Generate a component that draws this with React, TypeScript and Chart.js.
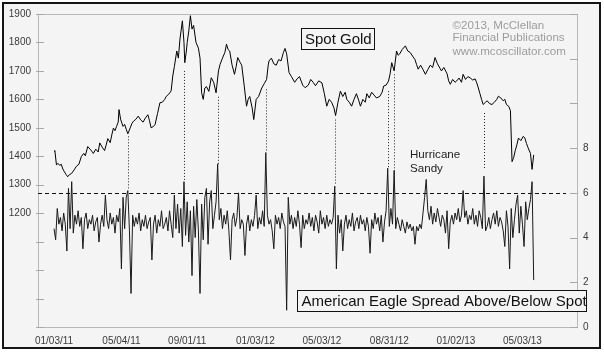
import React, { useEffect, useRef } from 'react';
import { Chart, registerables } from 'chart.js';
Chart.register(...registerables);

// trading-day index (0 = 01/03/11), gold price
const goldSeries: [number, number][] = [
  [0,1418],[1,1420],[3,1370],[5,1375],[7,1368],[9,1372],[11,1355],[13,1345],[15,1336],[17,1328],[19,1335],[22,1340],[25,1352],[28,1365],[31,1372],[34,1399],[37,1410],[39,1402],[42,1434],[45,1425],[47,1418],[49,1410],[52,1425],[55,1415],[57,1447],[60,1432],[63,1420],[65,1440],[67,1462],[70,1448],[72,1475],[74,1499],[76,1490],[78,1505],[80,1520],[81,1564],[83,1530],[86,1505],[88,1512],[90,1495],[92,1479],[95,1500],[97,1515],[99,1523],[102,1530],[105,1541],[108,1528],[111,1520],[114,1535],[117,1546],[119,1525],[121,1500],[124,1505],[126,1512],[129,1550],[132,1588],[135,1590],[138,1600],[140,1611],[143,1618],[146,1630],[148,1682],[150,1715],[153,1770],[155,1745],[157,1812],[160,1876],[162,1800],[163,1729],[165,1770],[166,1800],[168,1840],[170,1894],[172,1847],[174,1860],[177,1800],[180,1780],[182,1745],[184,1623],[186,1600],[188,1640],[190,1645],[193,1628],[196,1676],[199,1660],[202,1623],[205,1700],[207,1723],[210,1745],[213,1765],[215,1794],[217,1775],[219,1770],[222,1720],[225,1688],[227,1715],[229,1747],[232,1730],[234,1720],[237,1650],[240,1576],[242,1600],[244,1610],[247,1570],[249,1529],[252,1600],[255,1610],[259,1640],[262,1655],[265,1670],[267,1720],[268,1735],[271,1745],[274,1725],[277,1720],[280,1740],[283,1735],[286,1765],[288,1779],[290,1760],[293,1694],[296,1680],[300,1660],[303,1672],[306,1680],[310,1650],[313,1641],[317,1650],[320,1670],[323,1660],[326,1648],[330,1665],[334,1658],[337,1620],[340,1576],[343,1600],[346,1590],[349,1570],[351,1543],[354,1590],[357,1629],[360,1610],[363,1625],[365,1600],[368,1590],[371,1576],[374,1600],[377,1620],[380,1595],[382,1576],[385,1600],[388,1590],[390,1620],[393,1605],[396,1625],[399,1615],[402,1605],[406,1610],[409,1625],[411,1647],[414,1650],[417,1664],[419,1690],[421,1729],[424,1700],[427,1770],[429,1755],[431,1760],[434,1775],[438,1788],[441,1770],[444,1765],[447,1752],[450,1740],[452,1722],[454,1706],[457,1720],[460,1705],[463,1688],[466,1705],[469,1720],[472,1712],[475,1747],[478,1725],[481,1710],[483,1700],[486,1712],[490,1690],[492,1665],[494,1653],[497,1670],[500,1660],[502,1665],[505,1675],[508,1660],[510,1688],[513,1670],[516,1680],[519,1675],[522,1668],[525,1672],[527,1658],[529,1640],[531,1620],[533,1600],[535,1582],[538,1590],[540,1595],[543,1585],[546,1582],[549,1590],[552,1600],[554,1611],[557,1605],[560,1595],[562,1600],[564,1582],[567,1575],[569,1560],[571,1381],[573,1395],[575,1420],[577,1440],[579,1464],[582,1455],[585,1470],[587,1464],[589,1445],[591,1430],[594,1410],[596,1354],[598,1405]
];

// American Eagle spread, one value every SPREAD_STEP trading days starting at day 0
const SPREAD_STEP = 2;
const spreadValues: number[] = [
  4.4,3.9,5.3,4.6,4.9,4.3,5.1,4.6,3.4,6.2,
  4.4,6.5,4.2,5.0,4.6,5.2,4.5,4.9,3.5,4.8,
  5.1,4.4,4.8,4.6,5.0,4.3,4.7,4.9,3.8,4.6,
  5.0,4.5,5.9,4.8,4.4,5.1,4.6,4.9,4.2,5.0,
  4.7,5.3,2.6,5.8,4.4,5.8,6.1,4.3,1.5,5.0,
  4.5,4.9,4.6,5.1,4.3,4.8,4.5,5.0,4.4,4.7,
  4.9,3.0,4.6,5.0,4.2,4.8,4.5,5.2,4.4,4.6,
  4.9,4.3,5.2,4.6,4.0,5.9,4.4,5.5,4.2,5.3,
  3.6,6.5,4.1,5.6,3.8,5.2,2.3,5.4,4.0,5.7,
  4.3,1.5,5.5,3.9,5.8,6.2,3.7,5.6,6.1,4.4,
  5.0,5.6,7.3,4.8,5.3,4.4,5.0,4.6,5.2,4.3,
  3.0,4.8,5.1,4.5,4.9,6.0,4.4,4.8,4.6,3.2,
  4.6,5.0,4.3,4.8,4.5,5.0,5.9,4.4,4.9,4.6,
  5.2,4.5,7.8,5.0,4.6,4.8,4.3,3.5,5.0,4.6,
  4.9,4.4,5.1,4.7,4.5,0.75,5.8,4.6,5.0,4.4,
  4.9,4.5,5.2,4.6,3.55,5.0,4.4,4.8,4.6,5.1,
  4.5,4.9,4.3,5.0,4.7,4.2,5.2,4.6,4.9,4.4,
  5.0,4.5,4.8,4.6,4.9,6.3,2.6,5.0,4.2,4.8,
  3.4,4.6,5.0,4.4,4.8,4.5,5.1,4.3,4.7,4.9,
  4.4,5.0,4.6,4.8,4.3,4.9,4.5,3.3,4.8,4.4,
  5.1,4.6,4.9,4.3,5.0,3.8,4.7,5.2,7.1,4.5,
  5.3,4.6,7.0,4.4,4.9,4.6,4.3,4.8,4.5,4.2,
  4.7,4.4,4.6,4.3,4.5,3.7,4.5,4.3,4.6,4.4,
  5.1,5.8,6.6,5.2,4.8,5.4,4.6,5.1,4.7,5.3,
  4.9,4.5,5.0,4.8,4.2,5.2,3.5,4.7,5.0,4.6,
  5.1,4.8,5.3,4.7,5.0,6.1,4.9,5.2,4.6,5.0,
  4.8,5.3,4.6,5.0,4.5,5.2,4.9,4.4,6.75,4.3,
  4.5,4.9,4.4,4.8,5.1,4.6,5.2,4.5,4.9,4.7,
  4.3,3.6,5.2,4.5,2.6,5.3,4.0,4.8,5.5,5.9,
  4.2,5.4,4.6,3.6,5.6,4.8,5.3,5.7,6.5,2.1
];

const xTickDays = [0, 84, 166, 251, 334, 418, 501, 584];
const xTickLabels = ['01/03/11', '05/04/11', '09/01/11', '01/03/12', '05/03/12', '08/31/12', '01/02/13', '05/03/13'];

// dotted connectors: day, gold level where they start, spread level where they end
const markerDays = [92, 162, 204, 264, 350, 416, 424, 536];
const markerGoldTop = [1470, 1700, 1609, 1635, 1529, 1629, 1688, 1552];
const markerSpreadBottom = [6.2, 6.5, 7.3, 7.8, 6.35, 7.07, 6.6, 7.05];

const SPREAD_THRESHOLD = 6;

const FONT = "'Liberation Sans', Arial, sans-serif";

const decorPlugin = {
  id: 'decor',
  beforeDraw(chart: any) {
    const ctx = chart.ctx;
    ctx.save();
    ctx.fillStyle = '#ffffff';
    ctx.fillRect(0, 0, chart.width, chart.height);
    ctx.fillStyle = '#f4f4f4';
    ctx.fillRect(3, 3, 597, 345);
    ctx.restore();
  },
  beforeDatasetsDraw(chart: any) {
    const ctx = chart.ctx;
    const a = chart.chartArea;
    const x = chart.scales.x, yL = chart.scales.yL, yR = chart.scales.yR;
    ctx.save();
    // plot border
    ctx.strokeStyle = '#b8b8b8';
    ctx.lineWidth = 1;
    ctx.strokeRect(Math.round(a.left) + 0.5, Math.round(a.top) + 0.5, Math.round(a.right - a.left), Math.round(a.bottom - a.top));
    // tick marks inside
    ctx.strokeStyle = '#a8a8a8';
    ctx.beginPath();
    yL.ticks.forEach((t: any) => {
      const py = Math.round(yL.getPixelForValue(t.value)) + 0.5;
      ctx.moveTo(a.left - 2, py); ctx.lineTo(a.left + 6, py);
    });
    yR.ticks.forEach((t: any) => {
      const py = Math.round(yR.getPixelForValue(t.value)) + 0.5;
      ctx.moveTo(a.right - 7, py); ctx.lineTo(a.right + 1, py);
    });
    ctx.stroke();
    // dashed threshold line
    const ty = Math.round(yR.getPixelForValue(SPREAD_THRESHOLD)) + 0.5;
    ctx.strokeStyle = '#111';
    ctx.setLineDash([4, 3]);
    ctx.beginPath();
    ctx.moveTo(a.left, ty);
    ctx.lineTo(a.right - 11, ty);
    ctx.stroke();
    // dotted connectors
    ctx.setLineDash([1, 2]);
    ctx.strokeStyle = '#222';
    ctx.beginPath();
    markerDays.forEach((d, i) => {
      const px = Math.round(x.getPixelForValue(d)) + 0.5;
      ctx.moveTo(px, yL.getPixelForValue(markerGoldTop[i]));
      ctx.lineTo(px, yR.getPixelForValue(markerSpreadBottom[i]));
    });
    ctx.stroke();
    ctx.restore();
  },
  afterDraw(chart: any) {
    const ctx = chart.ctx;
    ctx.save();
    // Spot Gold box
    ctx.fillStyle = '#f4f4f4';
    ctx.fillRect(302, 29, 73, 20);
    ctx.strokeStyle = '#111';
    ctx.lineWidth = 1;
    ctx.strokeRect(301.5, 28.5, 73, 21);
    ctx.fillStyle = '#111';
    ctx.font = `15px ${FONT}`;
    ctx.textBaseline = 'middle';
    ctx.textAlign = 'left';
    ctx.fillText('Spot Gold', 305, 39.5);
    // American Eagle box
    ctx.fillStyle = '#f4f4f4';
    ctx.fillRect(298, 291, 289, 20);
    ctx.strokeRect(297.5, 290.5, 289, 21);
    ctx.fillStyle = '#111';
    ctx.fillText('American Eagle Spread Above/Below Spot', 301.5, 301.5);
    // watermark
    ctx.fillStyle = '#9c9c9c';
    ctx.font = `11.6px ${FONT}`;
    ctx.fillText('\u00A92013, McClellan', 452.5, 25.5);
    ctx.fillText('Financial Publications', 452.5, 38);
    ctx.fillText('www.mcoscillator.com', 452.5, 51.5);
    // hurricane note
    ctx.fillStyle = '#222';
    ctx.fillText('Hurricane', 410, 155);
    ctx.fillText('Sandy', 410, 168.5);
    // outer frame
    ctx.strokeStyle = '#151515';
    ctx.lineWidth = 2;
    ctx.strokeRect(3, 3, 597, 345);
    ctx.restore();
  }
};

export default function App() {
  const ref = useRef<HTMLCanvasElement>(null);
  useEffect(() => {
    const canvas = ref.current!;
    const goldData = goldSeries.map(([d, p]) => ({ x: d, y: p }));
    const spreadData = spreadValues.map((v, i) => ({ x: i * SPREAD_STEP, y: v }));
    const tickFont = { family: FONT, size: 10 };
    const chart = new Chart(canvas, {
      type: 'line',
      data: {
        datasets: [
          { label: 'Spread', data: spreadData, yAxisID: 'yR', borderColor: '#1a1a1a', borderWidth: 1, pointRadius: 0, tension: 0, fill: false },
          { label: 'Spot Gold', data: goldData, yAxisID: 'yL', borderColor: '#000', borderWidth: 1, pointRadius: 0, tension: 0, fill: false },
        ],
      },
      options: {
        responsive: false,
        devicePixelRatio: 1,
        animation: false,
        layout: { padding: { top: 14, left: 0, right: 0, bottom: 0 } },
        plugins: { legend: { display: false }, tooltip: { enabled: false } },
        scales: {
          x: {
            type: 'linear',
            min: -20,
            max: 652,
            grid: { display: false, drawTicks: false },
            border: { display: false },
            afterBuildTicks: (scale: any) => { scale.ticks = xTickDays.map(v => ({ value: v })); },
            afterFit: (scale: any) => { scale.height = 26; },
            ticks: {
              autoSkip: false,
              maxRotation: 0,
              padding: 8,
              color: '#3a3a3a',
              font: tickFont,
              callback: (v: any) => { const i = xTickDays.indexOf(Number(v)); return i >= 0 ? xTickLabels[i] : ''; },
            },
          },
          yL: {
            type: 'linear',
            position: 'left',
            min: 800,
            max: 1900,
            grid: { display: false, drawTicks: false },
            border: { display: false },
            afterFit: (scale: any) => { scale.width = 38; },
            ticks: {
              stepSize: 100,
              autoSkip: false,
              padding: 7,
              color: '#3a3a3a',
              font: tickFont,
              callback: (v: any) => (Number(v) >= 1200 ? String(v) : ''),
            },
          },
          yR: {
            type: 'linear',
            position: 'right',
            min: 0,
            max: 14,
            grid: { display: false, drawTicks: false },
            border: { display: false },
            afterFit: (scale: any) => { scale.width = 27; },
            ticks: {
              stepSize: 2,
              autoSkip: false,
              padding: 6,
              color: '#3a3a3a',
              font: tickFont,
              callback: (v: any) => (Number(v) <= 8 ? String(v) : ''),
            },
          },
        },
      },
      plugins: [decorPlugin],
    } as any);
    return () => chart.destroy();
  }, []);
  return (
    <div style={{ position: 'fixed', left: 0, top: 0, width: 604, height: 353 }}>
      <canvas ref={ref} width={604} height={353} style={{ display: 'block', width: 604, height: 353 }} />
    </div>
  );
}
